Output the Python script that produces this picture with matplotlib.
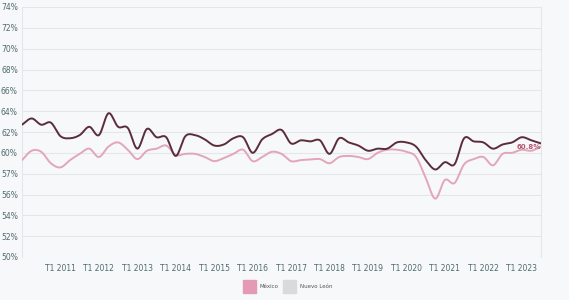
import numpy as np
import matplotlib
matplotlib.use("Agg")
import matplotlib.pyplot as plt
from matplotlib.patches import Rectangle

# ---- data ----
quarters = [f"T{q} {y}" for y in range(2010, 2024) for q in range(1, 5)][:55]
nuevo_leon = [62.7, 63.3, 62.7, 62.9, 61.6, 61.4, 61.7, 62.5, 61.7, 63.8,
              62.5, 62.4, 60.4, 62.3, 61.5, 61.5, 59.7, 61.6, 61.7, 61.3,
              60.7, 60.8, 61.4, 61.5, 60.0, 61.3, 61.8, 62.2, 60.9, 61.2,
              61.1, 61.2, 59.9, 61.4, 61.0, 60.7, 60.2, 60.4, 60.4, 61.0,
              61.0, 60.6, 59.3, 58.4, 59.1, 58.9, 61.4, 61.1, 61.0, 60.4,
              60.8, 61.0, 61.5, 61.2, 60.9]
mexico = [59.3, 60.2, 60.1, 59.0, 58.6, 59.3, 59.9, 60.4, 59.6, 60.6,
          61.0, 60.3, 59.4, 60.2, 60.4, 60.7, 59.8, 59.9, 59.9, 59.6,
          59.2, 59.5, 59.9, 60.3, 59.2, 59.6, 60.1, 59.9, 59.2, 59.3,
          59.35, 59.4, 59.0, 59.6, 59.7, 59.6, 59.4, 60.0, 60.3, 60.3,
          60.1, 59.6, 57.6, 55.6, 57.4, 57.1, 58.9, 59.4, 59.6, 58.8,
          59.9, 60.0, 60.3, 60.2, 60.6]
ytick_vals = [50, 52, 54, 56, 58, 60, 62, 64, 66, 68, 70, 72, 74]
ytick_labels = ["50%", "52%", "54%", "56%", "57%", "60%", "62%", "64%",
                "66%", "68%", "70%", "72%", "74%"]
end_label = "60.8%"
legend_names = ["México", "Nuevo León"]

C_DARK = "#5a2d39"
C_PINK = "#e3a6b8"
C_LEG_PINK = "#e39ab2"
C_LEG_GREY = "#d9dadc"
C_TICK = "#4f6b6b"
BG = "#f7f8fa"


def smooth(y, n=12):
    """Catmull-Rom curve through the points, for drawing."""
    y = np.asarray(y, float)
    x = np.arange(len(y), dtype=float)
    m = np.zeros_like(y)
    m[1:-1] = (y[2:] - y[:-2]) / 2
    m[0] = y[1] - y[0]
    m[-1] = y[-1] - y[-2]
    xs, ys = [], []
    for k in range(len(y) - 1):
        t = np.linspace(0, 1, n, endpoint=False)
        h00 = 2 * t**3 - 3 * t**2 + 1
        h10 = t**3 - 2 * t**2 + t
        h01 = -2 * t**3 + 3 * t**2
        h11 = t**3 - t**2
        xs.append(x[k] + t)
        ys.append(h00 * y[k] + h10 * m[k] + h01 * y[k + 1] + h11 * m[k + 1])
    xs.append([x[-1]])
    ys.append([y[-1]])
    return np.concatenate(xs), np.concatenate(ys)


fig = plt.figure(figsize=(5.69, 3.0), dpi=100, facecolor=BG)
ax = fig.add_axes([22 / 569, 1 - 257 / 300, (541 - 22) / 569, 250 / 300])
ax.set_facecolor(BG)

xm, ym = smooth(mexico)
xn, yn = smooth(nuevo_leon)
ax.plot(xm, ym, color=C_PINK, lw=1.4, solid_capstyle="round", zorder=3)
ax.plot(xn, yn, color=C_DARK, lw=1.4, solid_capstyle="round", zorder=4)

ax.set_xlim(0, len(quarters) - 1)
ax.set_ylim(50, 74)
ax.set_yticks(ytick_vals)
ax.set_yticklabels(ytick_labels)
xt = [i for i, q in enumerate(quarters) if q.startswith("T1") and q != "T1 2010"]
ax.set_xticks(xt)
ax.set_xticklabels([quarters[i] for i in xt])
ax.tick_params(axis="both", length=0, labelsize=5.5, colors=C_TICK)
ax.tick_params(axis="x", pad=5)
ax.tick_params(axis="y", pad=3)
ax.grid(axis="y", color="#e4e6e9", lw=0.8)
ax.set_axisbelow(True)
for s in ["top", "bottom"]:
    ax.spines[s].set_visible(False)
for s in ["left", "right"]:
    ax.spines[s].set_color("#e4e6e9")
    ax.spines[s].set_linewidth(0.8)

ax.text(len(quarters) - 1, mexico[-1], end_label, ha="right", va="center",
        fontsize=5, color="#b0586e", fontweight="bold", zorder=5)

# legend
fig.patches.append(Rectangle((243 / 569, 1 - 293 / 300), 13 / 569, 13 / 300,
                             transform=fig.transFigure, color=C_LEG_PINK))
fig.text(260 / 569, 1 - 287 / 300, legend_names[0], fontsize=4, color="#555555",
         va="center")
fig.patches.append(Rectangle((283 / 569, 1 - 293 / 300), 13 / 569, 13 / 300,
                             transform=fig.transFigure, color=C_LEG_GREY))
fig.text(300 / 569, 1 - 287 / 300, legend_names[1], fontsize=4, color="#555555",
         va="center")

fig.savefig("out.png", dpi=100, facecolor=BG)
